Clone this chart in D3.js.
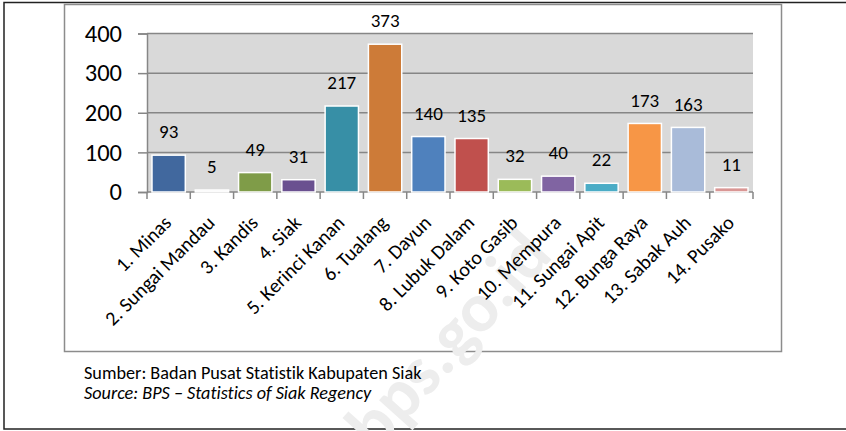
<!DOCTYPE html>
<html>
<head>
<meta charset="utf-8">
<script src="https://cdn.jsdelivr.net/npm/d3@7"></script>
<style>
  body { margin: 0; background: #fff; }
  text { font-family: Carlito, Lato, "Open Sans", sans-serif; font-variant-ligatures: none; }
</style>
</head>
<body>
<script>
// kecamatan di Kabupaten Siak
const districts = ["1. Minas", "2. Sungai Mandau", "3. Kandis", "4. Siak", "5. Kerinci Kanan",
  "6. Tualang", "7. Dayun", "8. Lubuk Dalam", "9. Koto Gasib", "10. Mempura",
  "11. Sungai Apit", "12. Bunga Raya", "13. Sabak Auh", "14. Pusako"];
const values = [93, 5, 49, 31, 217, 373, 140, 135, 32, 40, 22, 173, 163, 11];
const yTicks = [0, 100, 200, 300, 400];
const barColors = ["#41689e", "#f2f2f2", "#7f9c48", "#6a5090", "#378fa6", "#cd7b38", "#4f81bd",
  "#c0504d", "#9bbb59", "#8064a2", "#4bacc6", "#f79646", "#a9bbd9", "#d99694"];

const width = 846, height = 431;
const svg = d3.select("body").append("svg")
  .attr("width", width)
  .attr("height", height);

// outer frame
svg.append("rect").attr("x", 4).attr("y", 2.5).attr("width", 860).attr("height", 426.5)
  .attr("fill", "#fff").attr("stroke", "#222").attr("stroke-width", 1.5);

// chart frame
svg.append("rect").attr("x", 64.5).attr("y", 4.5).attr("width", 717).attr("height", 347)
  .attr("fill", "#fff").attr("stroke", "#8c8c8c").attr("stroke-width", 1.5);

// watermark
svg.append("text")
  .attr("transform", "translate(536,240) rotate(-48)")
  .attr("text-anchor", "end")
  .attr("dy", "0.35em")
  .attr("font-size", 70)
  .attr("font-weight", "bold")
  .attr("fill", "#ededed")
  .text("bps.go.id");

const plotLeft = 147, plotRight = 753, plotTop = 33.5, plotBottom = 192;

const x = d3.scaleBand()
  .domain(districts)
  .range([plotLeft, plotRight])
  .paddingInner(0.23)
  .paddingOuter(0.115);

const y = d3.scaleLinear()
  .domain([0, 400])
  .range([plotBottom, plotTop]);

// plot background
svg.append("rect")
  .attr("x", plotLeft).attr("y", plotTop)
  .attr("width", plotRight - plotLeft).attr("height", plotBottom - plotTop)
  .attr("fill", "#d9d9d9");

// gridlines
svg.append("g")
  .selectAll("line")
  .data(yTicks)
  .join("line")
  .attr("x1", plotLeft).attr("x2", plotRight)
  .attr("y1", d => y(d)).attr("y2", d => y(d))
  .attr("stroke", "#868686").attr("stroke-width", 1.5);

// y axis
const yAxis = svg.append("g")
  .attr("transform", `translate(${plotLeft},0)`)
  .call(d3.axisLeft(y).tickValues(yTicks).tickSize(9).tickPadding(16));
yAxis.select(".domain").attr("stroke", "#868686").attr("stroke-width", 1.5);
yAxis.selectAll(".tick line").attr("stroke", "#868686").attr("stroke-width", 1.5);
yAxis.selectAll(".tick text")
  .attr("font-size", 24.5)
  .attr("font-family", "Carlito, Lato, sans-serif")
  .attr("fill", "#000");

// x axis ticks on category boundaries
const bw = x.step();
const bounds = d3.range(districts.length + 1).map(i => plotLeft + i * bw);
svg.append("g")
  .selectAll("line")
  .data(bounds)
  .join("line")
  .attr("x1", d => d).attr("x2", d => d)
  .attr("y1", plotBottom).attr("y2", plotBottom + 7)
  .attr("stroke", "#868686").attr("stroke-width", 1.5);

// bars
svg.append("g")
  .selectAll("rect")
  .data(values)
  .join("rect")
  .attr("x", (d, i) => x(districts[i]))
  .attr("y", d => y(d))
  .attr("width", x.bandwidth())
  .attr("height", d => plotBottom - y(d))
  .attr("fill", (d, i) => barColors[i])
  .attr("stroke", "#fff")
  .attr("stroke-width", 1.5);

// data labels
svg.append("g")
  .selectAll("text")
  .data(values)
  .join("text")
  .attr("x", (d, i) => x(districts[i]) + x.bandwidth() / 2)
  .attr("y", d => y(d) - 23.5)
  .attr("dy", "0.35em")
  .attr("text-anchor", "middle")
  .attr("font-size", 19)
  .attr("fill", "#000")
  .text(d => d);

// category labels
svg.append("g")
  .selectAll("text")
  .data(districts)
  .join("text")
  .attr("transform", d => `translate(${x(d) + x.bandwidth() / 2 + 4},${plotBottom + 32}) rotate(-45)`)
  .attr("text-anchor", "end")
  .attr("font-size", 20)
  .attr("fill", "#000")
  .text(d => d);

// source note
svg.append("text")
  .attr("x", 84).attr("y", 379)
  .attr("font-size", 18.2)
  .attr("fill", "#000")
  .text("Sumber: Badan Pusat Statistik Kabupaten Siak");
svg.append("text")
  .attr("x", 84).attr("y", 399)
  .attr("font-size", 18.2)
  .attr("font-style", "italic")
  .attr("fill", "#000")
  .text("Source: BPS \u2013 Statistics of Siak Regency");
</script>
</body>
</html>
